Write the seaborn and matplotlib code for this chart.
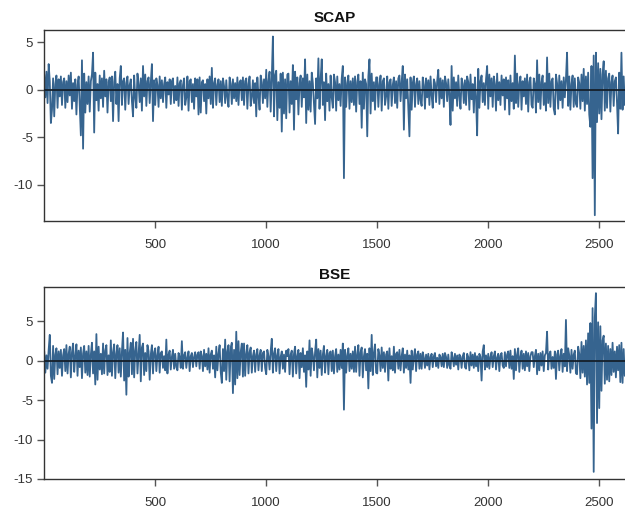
import numpy as np
import pandas as pd
import matplotlib
matplotlib.use("Agg")
import matplotlib.pyplot as plt
import seaborn as sns

scap = [
    1.6, -0.8, 1.9, -1.4, 2.7, 0.9, -3.5, -2.1, 1.2, -2.8, 0.6, 1.5, -1.9, 1.1, -0.7, 1.4, -1.6, 0.8, 1.2, -1.9,
    0.9, -1.3, 1.5, -0.6, 1.8, -2.0, 0.7, -1.2, 1.1, -2.6, 0.5, 1.4, -1.7, -4.8, 3.1, -6.2, 1.7, -2.4, 0.8, -1.5,
    1.4, -2.3, 0.9, 1.6, 3.9, -4.5, 1.8, -1.1, 0.6, -2.2, 1.5, -0.9, 1.2, -1.8, 2.0, -0.7, 1.1, -2.4, 0.8, 1.3,
    -1.2, 1.4, -3.3, 0.8, 1.9, -1.5, 0.6, -3.3, 1.2, 2.5, -1.6, 0.9, 1.2, -2.1, 0.7, 1.4, -1.5, 0.5, 1.1, -1.2,
    -2.8, 1.5, -0.8, -1.9, 1.7, 0.6, -1.3, 1.2, -2.2, 2.5, -0.7, 1.6, -1.7, 0.9, 1.3, -1.4, 0.8, 2.7, -3.3, 1.0,
    -1.6, 1.2, 0.5, -1.8, 1.4, -0.9, 1.0, -1.3, 0.6, 1.3, -1.9, 0.8, -0.5, 1.1, -1.5, 0.9, 1.2, -1.4, 0.4, -1.1,
    1.3, -1.7, 0.7, 1.0, -2.1, 0.5, 1.2, -1.6, -0.8, 1.4, -2.2, 0.9, 1.1, -1.3, 0.6, -2.0, 1.2, -0.7, 1.1, -2.6,
    1.3, -2.4, 0.8, 1.0, -1.2, 0.6, -2.5, 1.1, -0.9, 1.4, -1.5, 2.3, -1.9, 0.7, 1.2, -1.6, 0.5, 1.1, -1.3, 0.9,
    -1.7, 1.2, 0.4, -1.4, 1.0, -0.8, -1.8, 1.3, 0.6, -1.5, 1.1, -0.9, 0.7, -1.2, 1.3, -1.6, 0.8, 1.0, -1.1, 1.3,
    -1.6, 0.9, 1.2, -2.0, 0.6, 1.4, -1.7, -0.8, 1.0, -1.4, 0.7, -2.8, 1.3, -0.6, -2.1, 1.5, 0.8, -1.4, 1.1, -0.9,
    2.1, -1.8, 0.9, 1.9, -2.3, 1.2, 5.6, -2.8, 1.5, 2.0, -3.2, 0.8, -1.9, 1.7, -4.4, 1.8, -2.5, 1.1, -3.0, 1.6,
    1.7, -2.4, 0.9, -1.5, 2.6, -4.2, 1.9, -1.0, 1.3, -2.6, 0.7, 1.5, -1.8, 1.2, -0.8, 3.2, -3.5, 1.6, -2.1, 0.9,
    -2.3, 1.8, 0.7, -1.4, -3.6, 1.2, -0.9, 3.3, -2.0, 1.1, 3.2, -1.6, 0.8, -3.2, 1.7, -1.2, 0.6, -2.2, 1.5, -0.8,
    -1.9, 1.6, 0.8, -2.2, 1.4, -1.1, 0.6, -1.7, 1.2, 2.5, -9.3, 1.3, -1.8, 0.7, 1.5, -2.0, 0.9, -1.3, 1.2, -1.6,
    1.4, -2.3, 0.8, 1.6, -1.5, 0.9, -4.0, 1.8, -2.0, 1.1, 0.6, -4.9, 1.4, 3.2, -2.5, 1.7, -1.2, 0.8, -2.1, 1.3,
    1.3, -1.8, 0.6, 1.5, -2.2, 0.9, 1.2, -1.6, -0.7, 1.4, -2.0, 0.8, 1.1, -1.7, 0.5, 1.3, -1.4, 0.9, -1.9, 1.2,
    1.5, -1.2, 0.8, 2.5, -4.2, 1.6, -0.9, 1.1, -2.0, -4.9, 1.3, -2.1, 0.7, 1.4, -1.8, 0.6, 1.2, -1.5, 0.9, -1.1,
    -1.7, 1.3, 0.5, -2.0, 1.2, -0.8, 1.0, -1.6, 1.4, -0.6, -1.9, 1.1, 0.7, -1.3, 0.9, 2.1, -1.5, 1.2, -0.9, 1.0,
    -1.8, 1.4, 0.7, -1.2, 1.1, -0.6, -3.7, 2.5, -2.2, 1.3, -0.9, 0.8, -1.7, 1.5, -0.7, -2.0, 1.2, 0.6, -1.4, 1.0,
    -1.6, 1.4, 0.8, -2.1, 1.6, -1.0, 0.6, -2.4, 1.3, -0.8, -4.8, 2.2, -1.9, 0.9, 1.5, -1.3, 0.7, -1.6, 1.1, 2.5,
    -2.0, 1.6, -0.7, 1.2, -1.8, 1.4, 0.6, -2.2, 1.7, -1.1, 0.8, -1.6, 1.5, -0.6, 1.1, -2.1, 1.3, -0.9, 1.0, -2.6,
    1.5, -1.2, 0.7, -2.0, 3.6, -1.4, 1.7, -1.8, 0.6, 1.4, -2.1, 0.9, -0.7, 1.2, -1.5, 1.6, -2.3, 0.8, 1.3, -1.6,
    -1.9, 1.2, 0.6, -2.4, 3.1, -1.3, 1.6, -2.0, 0.8, 1.5, -1.6, 0.7, -2.2, 3.4, -1.4, 1.7, -1.8, 0.9, 1.2, -2.0,
    -2.6, 1.6, 0.7, -2.0, 1.5, -1.1, 0.9, -1.9, 1.3, -0.8, 1.1, 3.9, -1.7, 1.4, -2.1, 0.6, 1.5, -1.8, 1.2, -1.5,
    -1.8, 1.3, 0.7, -2.0, 1.6, -1.2, 2.2, -2.2, 1.4, -1.5, 1.8, -2.6, -3.9, 2.5, -9.3, 3.6, -13.2, 3.9, -3.4, 2.8,
    -2.5, 2.2, -3.1, 1.6, 3.0, -2.2, 2.0, -1.9, 1.2, 1.7, -2.3, 0.8, 1.5, -1.7, 0.9, 1.3, -1.4, -4.6, 1.8, -2.0,
    3.9, -2.1, 1.4, -1.6,
]

bse = [
    1.2, -1.5, 0.7, -1.0, 1.4, 3.3, -1.9, -2.8, 1.9, -2.3, 0.8, 1.6, -1.7, 1.2, -0.9, 1.4, -1.9, 0.7, 1.5, -1.3,
    2.0, -1.6, 0.9, 1.8, -2.1, 1.1, 2.2, -1.4, 0.6, 2.1, -1.9, 1.3, -0.8, 1.7, -2.2, 0.9, 1.9, -1.5, 1.2, -1.8,
    1.9, -2.0, 0.8, 2.3, -1.6, 1.2, -3.0, 3.4, -2.4, 1.8, -1.1, 0.9, -1.7, 2.2, -1.6, 1.3, 2.0, -1.8, 0.7, -1.4,
    2.6, -1.9, 1.1, 2.1, -2.2, 0.9, 2.0, -1.5, 1.6, -2.0, 1.2, 3.6, -2.5, 1.4, -4.3, 2.9, -2.0, 1.0, 2.3, -1.7,
    2.8, -2.1, 1.3, 2.4, -1.6, 0.9, 3.3, -2.6, 1.7, 2.2, -1.8, 1.0, -1.3, 2.0, 1.2, -2.4, 0.8, 2.0, -1.6, 1.1,
    1.6, -1.3, 0.7, 1.8, -1.5, 1.0, 1.2, -0.9, 0.6, -1.2, 2.7, -1.6, 0.8, 1.3, -1.1, 0.5, 1.4, -1.0, 0.9, -0.8,
    -1.2, 1.0, 0.5, -0.9, 2.5, -1.0, 0.7, 1.1, -0.9, 0.4, 1.2, -1.3, 0.6, 1.0, -0.8, 0.5, 1.1, -0.7, 0.8, 1.1,
    -1.0, 1.2, 0.6, -1.3, 1.4, -0.7, 0.9, -1.1, 1.6, -1.5, 0.8, 1.3, -1.0, 0.7, -2.1, 1.8, -1.2, 0.9, 2.0, -1.4,
    -2.8, 1.5, -1.3, 2.7, -2.4, 1.2, 2.0, -2.6, 1.7, 2.3, -4.1, 1.4, -3.0, 3.7, -2.2, 2.5, -1.8, 1.1, 2.2, -2.0,
    2.2, -1.9, 0.9, 2.0, -1.6, 1.1, 1.7, -1.5, 0.6, 1.3, -1.4, 0.8, 1.5, -1.2, 0.7, 1.4, -1.3, 1.0, 1.2, -0.9,
    -1.7, 1.4, 0.6, -1.1, 1.2, 2.8, -1.5, 0.9, 1.6, -1.3, 0.7, 1.5, -1.6, 0.5, 1.2, -1.0, 0.8, -1.4, 1.3, 0.6,
    1.5, -1.7, 0.8, 1.3, -2.0, 0.9, 1.8, -1.6, 0.6, 1.4, -2.2, 1.0, -0.8, 1.6, -1.4, 0.7, -3.3, 1.2, -1.1, 2.6,
    -1.9, 1.6, 0.7, -1.2, 1.1, 2.7, -2.1, 1.5, -0.9, 1.3, -1.8, 0.8, 1.9, -1.5, 0.6, 1.4, -1.7, 1.0, 1.2, -1.3,
    1.3, -1.6, 0.6, 1.5, -1.4, 0.8, -1.1, 1.4, -0.9, 2.2, -6.2, 1.4, -1.5, 0.7, 1.6, -1.3, 0.9, -1.0, 1.2, -1.4,
    1.8, -1.4, 0.8, 2.0, -1.9, 1.1, 1.7, -2.1, 0.6, 1.5, -1.2, 0.9, -3.5, 1.6, -1.3, 3.3, -1.8, 1.0, 2.1, -1.5,
    -1.6, 1.5, 0.7, -1.3, 1.7, -0.9, 1.1, -1.4, 0.8, 1.2, -2.5, 1.6, -1.0, 0.6, -1.2, 1.8, -1.5, 0.9, 1.1, -1.0,
    1.4, -1.2, 0.6, 1.6, -1.5, 0.8, -0.9, 1.3, -1.1, 0.7, -2.8, 1.3, -1.1, 0.5, 1.5, -1.3, 0.8, 1.2, -1.0, 0.9,
    -1.0, 1.1, 0.4, -0.9, 0.8, -0.6, 0.9, -1.1, 0.5, 0.9, -0.8, 0.6, 1.0, -0.7, 0.4, -0.9, 0.8, 0.5, -0.7, 0.9,
    -0.8, 1.0, 0.5, -0.9, 0.8, -0.6, -1.0, 1.1, 0.4, -0.7, 0.9, -0.5, 0.7, -1.1, 0.8, 0.5, -0.9, 0.6, 1.0, -0.8,
    -1.0, 0.9, 0.5, -1.2, 1.1, -0.6, 0.8, -0.9, 1.0, -0.7, 0.6, -1.3, 0.9, 0.5, -2.5, 1.2, 2.0, -1.1, 0.7, -0.8,
    0.9, -1.0, 0.5, 1.1, -0.8, 0.6, 1.2, -1.1, 0.4, 0.9, -1.3, 0.7, 1.0, -0.6, -0.9, 1.1, -0.7, 0.8, 1.2, -0.9,
    1.3, -1.0, 0.6, -2.3, 1.5, -1.2, 0.8, 1.6, -1.4, 0.5, 1.3, -1.0, 0.9, -1.2, 1.2, -0.7, 1.0, -1.3, 0.6, 1.1,
    1.1, -0.8, 0.6, 1.4, -1.7, 0.9, -1.2, 1.0, -0.6, 1.2, -1.3, 0.7, 1.0, 3.7, -1.1, 0.8, 1.2, -1.0, 0.5, -0.9,
    1.2, -2.3, 0.8, 1.3, -1.2, 0.6, 1.5, -1.4, 0.9, -0.7, 5.2, -1.3, 1.6, 0.7, -1.5, 1.4, -1.0, 0.8, 1.3, -1.6,
    -1.7, 1.8, 0.9, -2.2, 2.4, -1.5, 1.9, -2.0, 2.6, -3.0, 3.5, -2.8, 4.8, -8.6, 6.7, -14.1, 5.5, 8.6, -7.9, 4.9,
    -6.0, 4.4, -3.8, 2.6, 3.2, -2.9, 2.2, -2.4, 1.9, -2.6, 1.5, -1.8, 2.3, -1.4, 1.2, -2.1, 1.8, -1.2, 2.0, -2.7,
    2.3, -2.8, 1.5, -1.9,
]

titles = ["SCAP", "BSE"]
x_ticks = [500, 1000, 1500, 2000, 2500]
y_ticks_top = [5, 0, -5, -10]
y_ticks_bottom = [5, 0, -5, -10, -15]

sns.set_style("ticks")
plt.rcParams["font.family"] = ["Liberation Sans", "DejaVu Sans"]
plt.rcParams["axes.unicode_minus"] = False

line_color = "#36648f"
fig = plt.figure(figsize=(6.25, 5.15), dpi=100)
ax1 = fig.add_axes([0.0704, 0.571, 0.9296, 0.371])
ax2 = fig.add_axes([0.0704, 0.070, 0.9296, 0.373])

panels = [
    (ax1, scap, titles[0], y_ticks_top, (-13.8, 6.3)),
    (ax2, bse, titles[1], y_ticks_bottom, (-15.0, 9.4)),
]

for ax, vals, title, yt, ylim in panels:
    df = pd.DataFrame({"t": np.arange(len(vals)) * 5 + 1, "r": vals})
    sns.lineplot(data=df, x="t", y="r", ax=ax, color=line_color, linewidth=1.3)
    ax.axhline(0, color="#15202b", linewidth=1.3, zorder=3)
    ax.set_xlim(0, 2617)
    ax.set_ylim(*ylim)
    ax.set_xticks(x_ticks)
    ax.set_yticks(yt)
    ax.set_xlabel("")
    ax.set_ylabel("")
    ax.set_title(title, fontsize=11, fontweight="bold", color="#111111", pad=6)
    for s in ["left", "bottom", "top"]:
        ax.spines[s].set_visible(True)
        ax.spines[s].set_color("#333333")
        ax.spines[s].set_linewidth(1.0)
    ax.spines["right"].set_visible(False)
    ax.tick_params(axis="both", direction="out", length=5, width=1.0,
                   color="#555555", labelcolor="#333333", labelsize=9.5)
    ax.tick_params(axis="x", pad=8)
    ax.tick_params(axis="y", pad=3)

fig.savefig("out.png", dpi=100)
